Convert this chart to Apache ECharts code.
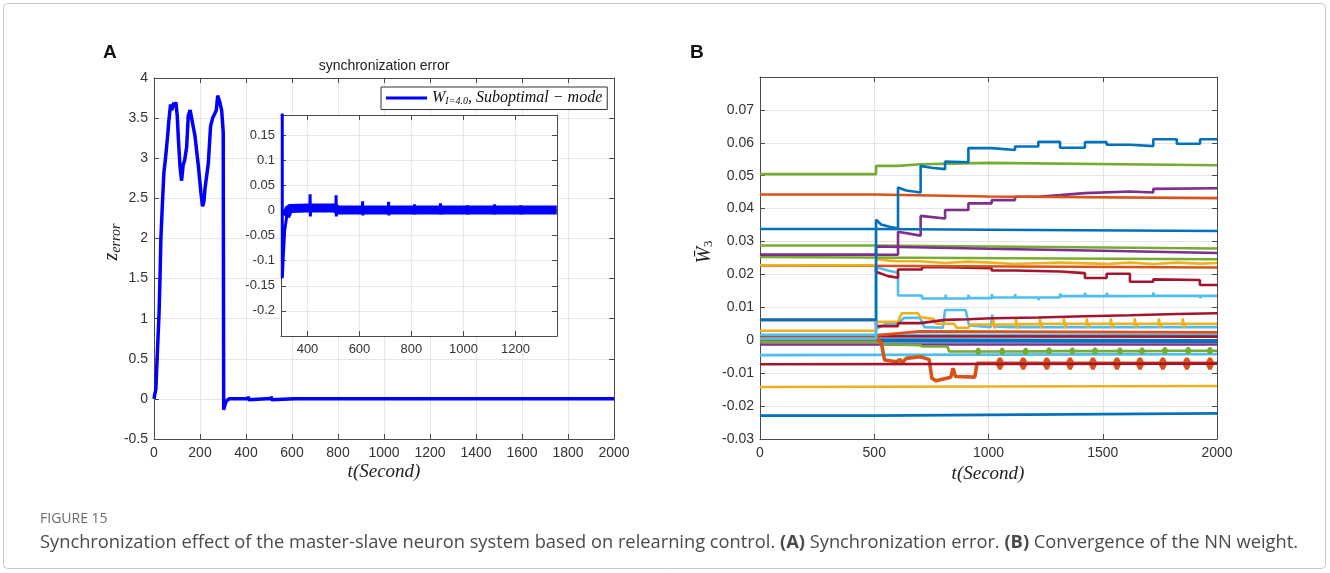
<!DOCTYPE html>
<html><head><meta charset="utf-8">
<script src="https://cdn.jsdelivr.net/npm/echarts@6/dist/echarts.min.js"></script>
<style>html,body{margin:0;padding:0;background:#fff}#c{width:1330px;height:573px}</style>
</head><body><div id="c"></div>
<script>
// ---------- Panel A data: synchronization error ----------
const zTime = [0,3,8,12,18,22,26,30,36,43,50,55,60,64,68,72,78,82,86,90,95,101,106,113,120,124,127,133,142,149,
  157,164,178,193,204,211,217,222,228,236,246,255,265,271,277,281,286,294,298,301,303,306,312,320,330,
  409,410,411,412,509,510,511,512,611,612,613,614,711,712,713,714,811,812,813,814,911,912,913,914,
  1014,1015,1016,1017,1119,1120,1121,1122,1219,1220,1221,1222,2000];
const zError = [0,0.05,0.12,0.4,0.8,1.07,1.5,2.0,2.4,2.82,3.0,3.15,3.3,3.45,3.47,3.67,3.6,3.66,3.69,3.64,
  3.7,3.53,3.24,2.9,2.72,2.74,2.92,2.97,3.14,3.53,3.6,3.58,3.28,2.9,2.57,2.4,2.46,2.63,2.65,2.93,
  3.4,3.5,3.56,3.6,3.78,3.77,3.7,3.6,3.45,3.32,-0.135,-0.1,-0.04,-0.012,0.003,
  0.004,0.032,-0.012,0.004, 0.004,0.03,-0.012,0.001, 0.001,0.018,-0.01,0.001, 0.001,0.017,-0.01,0.001,
  0.001,0.012,-0.008,0.001, 0.001,0.014,-0.008,0.001, 0.001,0.01,-0.008,0.001, 0.001,0.012,-0.008,0.001,
  0.001,0.01,-0.008,0.001, 0.001];
// oscillation band centre seen in the inset
const bandTime = [316,330,400,505,515,1359];
const bandCenter = [-0.012,0.004,0.005,0.005,0.001,0.001];
const mainXTicks = [0,200,400,600,800,1000,1200,1400,1600,1800,2000];
const insetXTicks = [400,600,800,1000,1200];

// ---------- Panel B data: NN weights W3 ([t, value]) ----------
const w01 = [[0,0.0338],[500,0.0338],[1000,0.0336],[2000,0.0332]];
const w03 = [[0,0.0505],[508,0.0505],[508,0.053],[604,0.053],[604,0.0535],[703,0.0535],[703,0.054],[1000,0.0539],[2000,0.0532]];
const w04 = [[0,0.0443],[500,0.0443],[1000,0.0437],[2000,0.0432]];
const w06 = [[0,0.026],[508,0.026],[508,0.0285],[1000,0.0278],[1500,0.0272],[2000,0.0265]];
const w07 = [[0,0.0288],[500,0.0288],[2000,0.0279]];
const w08 = [[0,0.0253],[2000,0.0246]];
const w09 = [[0,0.0228],[2000,0.0221]];
const w17 = [[0,-0.0073],[2000,-0.0071]];
const w19 = [[0,-0.0045],[2000,-0.0042]];
const w20 = [[0,-0.0142],[2000,-0.0139]];
const w21 = [[0,-0.0229],[500,-0.0229],[2000,-0.0222]];
const w22 = [[0,0.0012],[2000,0.0011]];
const w23 = [[0,0.0015],[508,0.0015],[700,0.0027],[2000,0.0024]];
const w24 = [[0,0.0003],[2000,0.0]];
const w25 = [[0,-0.0003],[2000,-0.0004]];
const w26 = [[0,-0.0013],[2000,-0.0013]];
const w27 = [[0,0.0008],[508,0.0008],[520,0.0017],[2000,0.0017]];
const w15 = [[0,0.0062],[508,0.0062],[508,0.0043],[604,0.0043],[604,0.0052],[703,0.0052],[703,0.0055],[810,0.0062],[912,0.0064],[1014,0.0067],[1218,0.0069],[1422,0.0073],[1619,0.0076],[1824,0.008],[2000,0.0082]];
const w14 = [[0,0.0029],[508,0.0029],[508,0.0056],[604,0.0056],[620,0.0082],[690,0.0082],[703,0.007],[760,0.0065],[770,0.005],[850,0.005],[860,0.0038],[912,0.0038],[920,0.0048],
  [1020,0.0048],[1020,0.0064],[1026,0.0036],[1030,0.0048],[1120,0.0048],[1120,0.0064],[1126,0.0036],[1130,0.0049],[1225,0.0049],[1225,0.0065],[1231,0.0037],[1235,0.005],
  [1330,0.005],[1330,0.0066],[1336,0.0037],[1340,0.005],[1430,0.005],[1430,0.0066],[1436,0.0037],[1440,0.005],[1535,0.005],[1535,0.0066],[1541,0.0037],[1545,0.005],
  [1640,0.005],[1640,0.0066],[1646,0.0037],[1650,0.005],[1745,0.005],[1745,0.0066],[1751,0.0037],[1755,0.005],[1850,0.005],[1850,0.0066],[1856,0.0037],[1860,0.005],[2000,0.005]];
const w13 = [[0,0.0017],[508,0.0017],[508,0.0035],[560,0.0052],[604,0.005],[630,0.0068],[700,0.0068],[720,0.004],[800,0.0038],[810,0.0092],[900,0.0092],[915,0.0045],[1010,0.004],
  [1016,0.0078],[1024,0.0042],[1100,0.004],[2000,0.004]];
const w12 = [[0,0.0005],[508,0.0005],[508,0.0222],[560,0.0212],[604,0.0205],[604,0.0136],[709,0.0136],[709,0.0127],[812,0.0127],[812,0.0138],[816,0.0127],[912,0.0127],[912,0.0138],[916,0.0128],
  [1014,0.0128],[1014,0.014],[1018,0.013],[1116,0.013],[1116,0.014],[1120,0.013],[1218,0.013],[1218,0.0122],[1222,0.013],[1313,0.013],[1313,0.0142],[1317,0.0134],
  [1422,0.0134],[1422,0.0144],[1426,0.0134],[1517,0.0134],[1517,0.0144],[1521,0.0134],[1721,0.0135],[1721,0.0145],[1725,0.0135],[1926,0.0135],[1926,0.0128],[1930,0.0135],[2000,0.0135]];
const w11 = [[0,0.0228],[508,0.0228],[508,0.0208],[560,0.0195],[604,0.019],[604,0.0215],[709,0.0215],[709,0.0222],[810,0.0222],[810,0.0219],[1014,0.0219],[1014,0.0212],[1116,0.0212],[1116,0.0209],
  [1313,0.0209],[1313,0.0204],[1422,0.0204],[1422,0.0189],[1517,0.0189],[1517,0.0202],[1619,0.0202],[1619,0.0178],[1721,0.0178],[1721,0.0185],[1925,0.0183],[1925,0.0168],[2000,0.0168]];
const w10 = [[0,0.0228],[508,0.0228],[508,0.0248],[560,0.0242],[604,0.024],[703,0.024],[703,0.0235],[810,0.0235],[810,0.0239],[912,0.0239],[912,0.0236],[1014,0.0236],[1014,0.0232],
  [1116,0.0232],[1116,0.0234],[1218,0.0234],[1218,0.0236],[1313,0.0236],[1313,0.0232],[1517,0.0232],[1517,0.0236],[1619,0.0236],[1619,0.0232],[1721,0.0232],[1721,0.0236],
  [1824,0.0236],[1824,0.0233],[1926,0.0233],[1926,0.0235],[2000,0.0235]];
const w18 = [[0,-0.0005],[508,-0.0005],[540,-0.0012],[700,-0.0015],[712,-0.0019],[820,-0.0019],[828,-0.0034],
  [945,-0.0034],[955,-0.0025],[965,-0.0034],[955,-0.0042],[945,-0.0034],[1050,-0.0034],[1060,-0.0025],[1070,-0.0034],[1060,-0.0042],[1050,-0.0034],
  [1153,-0.0034],[1163,-0.0025],[1173,-0.0034],[1163,-0.0042],[1153,-0.0034],[1255,-0.0033],[1265,-0.0024],[1275,-0.0033],[1265,-0.0041],[1255,-0.0033],
  [1357,-0.0033],[1367,-0.0024],[1377,-0.0033],[1367,-0.0041],[1357,-0.0033],[1456,-0.0033],[1466,-0.0024],[1476,-0.0033],[1466,-0.0041],[1456,-0.0033],
  [1565,-0.0033],[1575,-0.0024],[1585,-0.0033],[1575,-0.0041],[1565,-0.0033],[1662,-0.0033],[1672,-0.0024],[1682,-0.0033],[1672,-0.0041],[1662,-0.0033],
  [1762,-0.0032],[1772,-0.0023],[1782,-0.0032],[1772,-0.004],[1762,-0.0032],[1864,-0.0032],[1874,-0.0023],[1884,-0.0032],[1874,-0.004],[1864,-0.0032],
  [1959,-0.0032],[1969,-0.0023],[1979,-0.0032],[1969,-0.004],[1959,-0.0032],[2000,-0.0032]];
const w16 = [[0,0.0005],[508,0.0005],[530,-0.0005],[545,-0.006],[600,-0.0065],[612,-0.0058],[622,-0.0068],[640,-0.0055],[700,-0.005],[740,-0.0058],[752,-0.0115],[770,-0.0123],
  [835,-0.0112],[845,-0.0085],[855,-0.011],[940,-0.0112],[950,-0.007],
  [1038,-0.007],[1050,-0.0055],[1062,-0.007],[1050,-0.0087],[1038,-0.007],[1140,-0.007],[1152,-0.0055],[1164,-0.007],[1152,-0.0087],[1140,-0.007],
  [1243,-0.007],[1255,-0.0055],[1267,-0.007],[1255,-0.0087],[1243,-0.007],[1345,-0.007],[1357,-0.0055],[1369,-0.007],[1357,-0.0087],[1345,-0.007],
  [1445,-0.007],[1457,-0.0055],[1469,-0.007],[1457,-0.0087],[1445,-0.007],[1550,-0.007],[1562,-0.0055],[1574,-0.007],[1562,-0.0087],[1550,-0.007],
  [1651,-0.007],[1663,-0.0055],[1675,-0.007],[1663,-0.0087],[1651,-0.007],[1751,-0.007],[1763,-0.0055],[1775,-0.007],[1763,-0.0087],[1751,-0.007],
  [1856,-0.007],[1868,-0.0055],[1880,-0.007],[1868,-0.0087],[1856,-0.007],[1957,-0.007],[1969,-0.0055],[1981,-0.007],[1969,-0.0087],[1957,-0.007],[2000,-0.007]];
const w05 = [[0,0.026],[604,0.026],[604,0.033],[703,0.0318],[703,0.0378],[810,0.037],[810,0.0396],[912,0.0396],[912,0.0416],[1014,0.0416],[1014,0.0426],[1116,0.0426],
  [1116,0.0436],[1218,0.0436],[1218,0.0441],[1313,0.0441],[1313,0.0447],[1422,0.0447],[1422,0.0452],[1619,0.0452],[1619,0.0449],[1721,0.0449],[1721,0.046],[2000,0.0462]];
const w02 = [[0,0.0062],[508,0.0062],[508,0.0366],[530,0.0352],[570,0.0344],[604,0.034],[604,0.0464],[640,0.0455],[703,0.0449],[703,0.053],[750,0.0524],[810,0.052],
  [810,0.0543],[912,0.0541],[912,0.0584],[1014,0.0584],[1014,0.0578],[1116,0.0578],[1116,0.0589],[1218,0.0589],[1218,0.0603],[1313,0.0603],[1313,0.0585],
  [1422,0.0585],[1422,0.0602],[1517,0.0602],[1517,0.0594],[1619,0.0594],[1619,0.059],[1721,0.059],[1721,0.0611],[1824,0.0611],[1824,0.0597],[1926,0.0597],[1926,0.0611],[2000,0.0611]];
const wYTicks = [-0.03,-0.02,-0.01,0,0.01,0.02,0.03,0.04,0.05,0.06,0.07];

// ---------- styling ----------
const C = {blue:'#0072BD', orange:'#D95319', yellow:'#EDB120', purple:'#7E2F8E', green:'#77AC30', lblue:'#4DBEEE', dred:'#A2142F'};
const weightList = [
  [w21,C.blue],[w20,C.yellow],[w19,C.lblue],[w26,C.purple],[w25,C.blue],[w24,C.blue],[w27,C.lblue],[w22,C.dred],[w23,C.orange],
  [w18,C.green],[w16,C.orange,3.6],[w17,C.dred],[w13,C.lblue],[w14,C.yellow],[w15,C.dred],[w12,C.lblue],[w11,C.dred],[w09,C.orange],[w10,C.yellow],
  [w08,C.green],[w07,C.green],[w06,C.purple],[w05,C.purple],[w01,C.blue],[w04,C.orange],[w03,C.green],[w02,C.blue]
];
const SANS = 'Liberation Sans, Arial, sans-serif';
const SERIF = 'Liberation Serif, Times New Roman, serif';
const AX = '#4a4a4a', GRIDC = '#e6e6e6', LBL = '#333';

function fmt(v){ return String(+(+v).toFixed(3)); }
function boxAxes(gi, xmin, xmax, xint, ymin, ymax, yint, fs, opts){
  opts = opts || {};
  const lineStyle = {color: AX, width: 1};
  const xb = {type:'value', gridIndex:gi, min:xmin, max:xmax, position:'bottom',
    axisLine:{show:true, onZero:false, lineStyle}, axisTick:{show:true, inside:true, length:5, lineStyle},
    axisLabel:{color:LBL, fontSize:fs, fontFamily:SANS, margin:7, formatter: opts.xfmt || fmt},
    splitLine:{show:true, lineStyle:{color:GRIDC, width:1}}, z: opts.z||0};
  if (xint != null) xb.interval = xint;
  if (opts.xCustom){ xb.axisLabel.customValues = opts.xCustom; xb.axisTick.customValues = opts.xCustom; }
  const xt = JSON.parse(JSON.stringify(xb)); xt.position='top'; xt.axisLabel={show:false}; xt.splitLine={show:false};
  if (opts.xCustom){ xt.axisTick.customValues = opts.xCustom; }
  const yl = {type:'value', gridIndex:gi, min:ymin, max:ymax, interval:yint, position:'left',
    axisLine:{show:true, onZero:false, lineStyle}, axisTick:{show:true, inside:true, length:5, lineStyle},
    axisLabel:{color:LBL, fontSize:fs, fontFamily:SANS, margin:6, showMinLabel: opts.showMin !== false, showMaxLabel: opts.showMax !== false, formatter: opts.yfmt || fmt},
    splitLine:{show:true, lineStyle:{color:GRIDC, width:1}}, z: opts.z||0};
  const yr = JSON.parse(JSON.stringify(yl)); yr.position='right'; yr.axisLabel={show:false}; yr.splitLine={show:false};
  return {x:[xb, xt], y:[yl, yr]};
}

const A = boxAxes(0, 0, 2000, 200, -0.5, 4, 0.5, 14);
const I = boxAxes(1, 298, 1360, null, -0.25, 0.19, 0.05, 13, {xCustom: insetXTicks, showMin:false, showMax:false, z:11});
const B = boxAxes(2, 0, 2000, 500, -0.03, 0.08, 0.01, 14, {yfmt: v => Math.abs(v-0.08)<1e-9 ? '' : fmt(v)});
B.x[0].splitLine.lineStyle.color = '#e3e3e3';

const zData = zTime.map((t,i)=>[t, zError[i]]);
const bandData = bandTime.map((t,i)=>[t, bandCenter[i]]);

const series = [
  {name:'W', type:'line', xAxisIndex:0, yAxisIndex:0, data:zData, showSymbol:false, symbol:'none',
    lineStyle:{color:'#0000ff', width:3.5}, itemStyle:{color:'#0000ff'}, z:3},
  {name:'inset-band', type:'line', xAxisIndex:2, yAxisIndex:2, data:bandData, showSymbol:false, symbol:'none',
    lineStyle:{color:'#0000ff', width:9, cap:'butt'}, z:12},
  {name:'inset', type:'line', xAxisIndex:2, yAxisIndex:2, data:zData.filter(p=>p[0]<=1345), showSymbol:false, symbol:'none',
    lineStyle:{color:'#0000ff', width:3}, z:13},
];
weightList.forEach((w,i)=>{
  series.push({name:'w'+i, type:'line', xAxisIndex:4, yAxisIndex:4, data:w[0], showSymbol:false, symbol:'none',
    lineStyle:{color:w[1], width:w[2]||2.6}, z:3});
});

const chart = echarts.init(document.getElementById('c'), null, {renderer:'canvas'});
chart.setOption({
  animation:false,
  backgroundColor:'#fff',
  grid:[
    {left:154, top:78, right:716, bottom:134, show:false},
    {left:281, top:115, right:773, bottom:237, show:true, backgroundColor:'#fff', borderWidth:0, z:10},
    {left:760, top:77, right:113, bottom:134, show:false}
  ],
  xAxis:[A.x[0], A.x[1], I.x[0], I.x[1], B.x[0], B.x[1]],
  yAxis:[A.y[0], A.y[1], I.y[0], I.y[1], B.y[0], B.y[1]],
  legend:{
    data:['W'], left:381, top:87, z:20,
    backgroundColor:'#fff', borderColor:'#333', borderWidth:1, borderRadius:0,
    padding:[3,5,3,5], icon:'rect', itemWidth:41, itemHeight:3, itemGap:5,
    formatter:()=>'{w|W}{s|I=4.0}{r|, Suboptimal − mode}',
    textStyle:{rich:{
      w:{fontFamily:SERIF, fontStyle:'italic', fontSize:16, color:'#111'},
      s:{fontFamily:SERIF, fontStyle:'italic', fontSize:10, color:'#111', padding:[7,0,0,0]},
      r:{fontFamily:SERIF, fontStyle:'italic', fontSize:16, color:'#111'}
    }}
  },
  series,
  graphic:[
    {type:'rect', shape:{x:3.5, y:3.5, width:1322, height:565, r:4}, style:{fill:'none', stroke:'#c8c8c8', lineWidth:1}, silent:true},
    {type:'text', x:103, y:53, style:{text:'A', font:'bold 19px '+SANS, fill:'#111', textVerticalAlign:'middle'}},
    {type:'text', x:690, y:53, style:{text:'B', font:'bold 19px '+SANS, fill:'#111', textVerticalAlign:'middle'}},
    {type:'text', x:384, y:66, style:{text:'synchronization error', font:'14px '+SANS, fill:'#222', textAlign:'center', textVerticalAlign:'middle'}},
    {type:'text', x:384, y:472, style:{text:'t(Second)', font:'italic 19px '+SERIF, fill:'#222', textAlign:'center', textVerticalAlign:'middle'}},
    {type:'text', x:988, y:474, style:{text:'t(Second)', font:'italic 19px '+SERIF, fill:'#222', textAlign:'center', textVerticalAlign:'middle'}},
    {type:'text', x:112, y:242, rotation:Math.PI/2, style:{text:'{z|z}{s|error}', textAlign:'center', textVerticalAlign:'middle',
      rich:{z:{fontFamily:SERIF, fontStyle:'italic', fontSize:20, fill:'#222'}, s:{fontFamily:SERIF, fontStyle:'italic', fontSize:14, fill:'#222', padding:[8,0,0,0]}}}},
    {type:'text', x:705, y:252, rotation:Math.PI/2, style:{text:'{z|W\u0304}{s|3}', textAlign:'center', textVerticalAlign:'middle',
      rich:{z:{fontFamily:SERIF, fontStyle:'italic', fontSize:20, fill:'#222'}, s:{fontFamily:SERIF, fontSize:13, fill:'#222', padding:[8,0,0,0]}}}},
    {type:'text', x:40, y:519, style:{text:'FIGURE 15', font:'14px Open Sans, sans-serif', fill:'#6b6b6b', textVerticalAlign:'middle'}},
    {type:'text', x:40, y:543, style:{text:'{n|Synchronization effect of the master-slave neuron system based on relearning control. }{b|(A)}{n| Synchronization error. }{b|(B)}{n| Convergence of the NN weight.}',
      textVerticalAlign:'middle',
      rich:{n:{fontFamily:'Open Sans, sans-serif', fontSize:18.3, fill:'#4a4a4a'}, b:{fontFamily:'Open Sans, sans-serif', fontSize:18.3, fontWeight:'bold', fill:'#4a4a4a'}}}}
  ]
});
</script></body></html>
